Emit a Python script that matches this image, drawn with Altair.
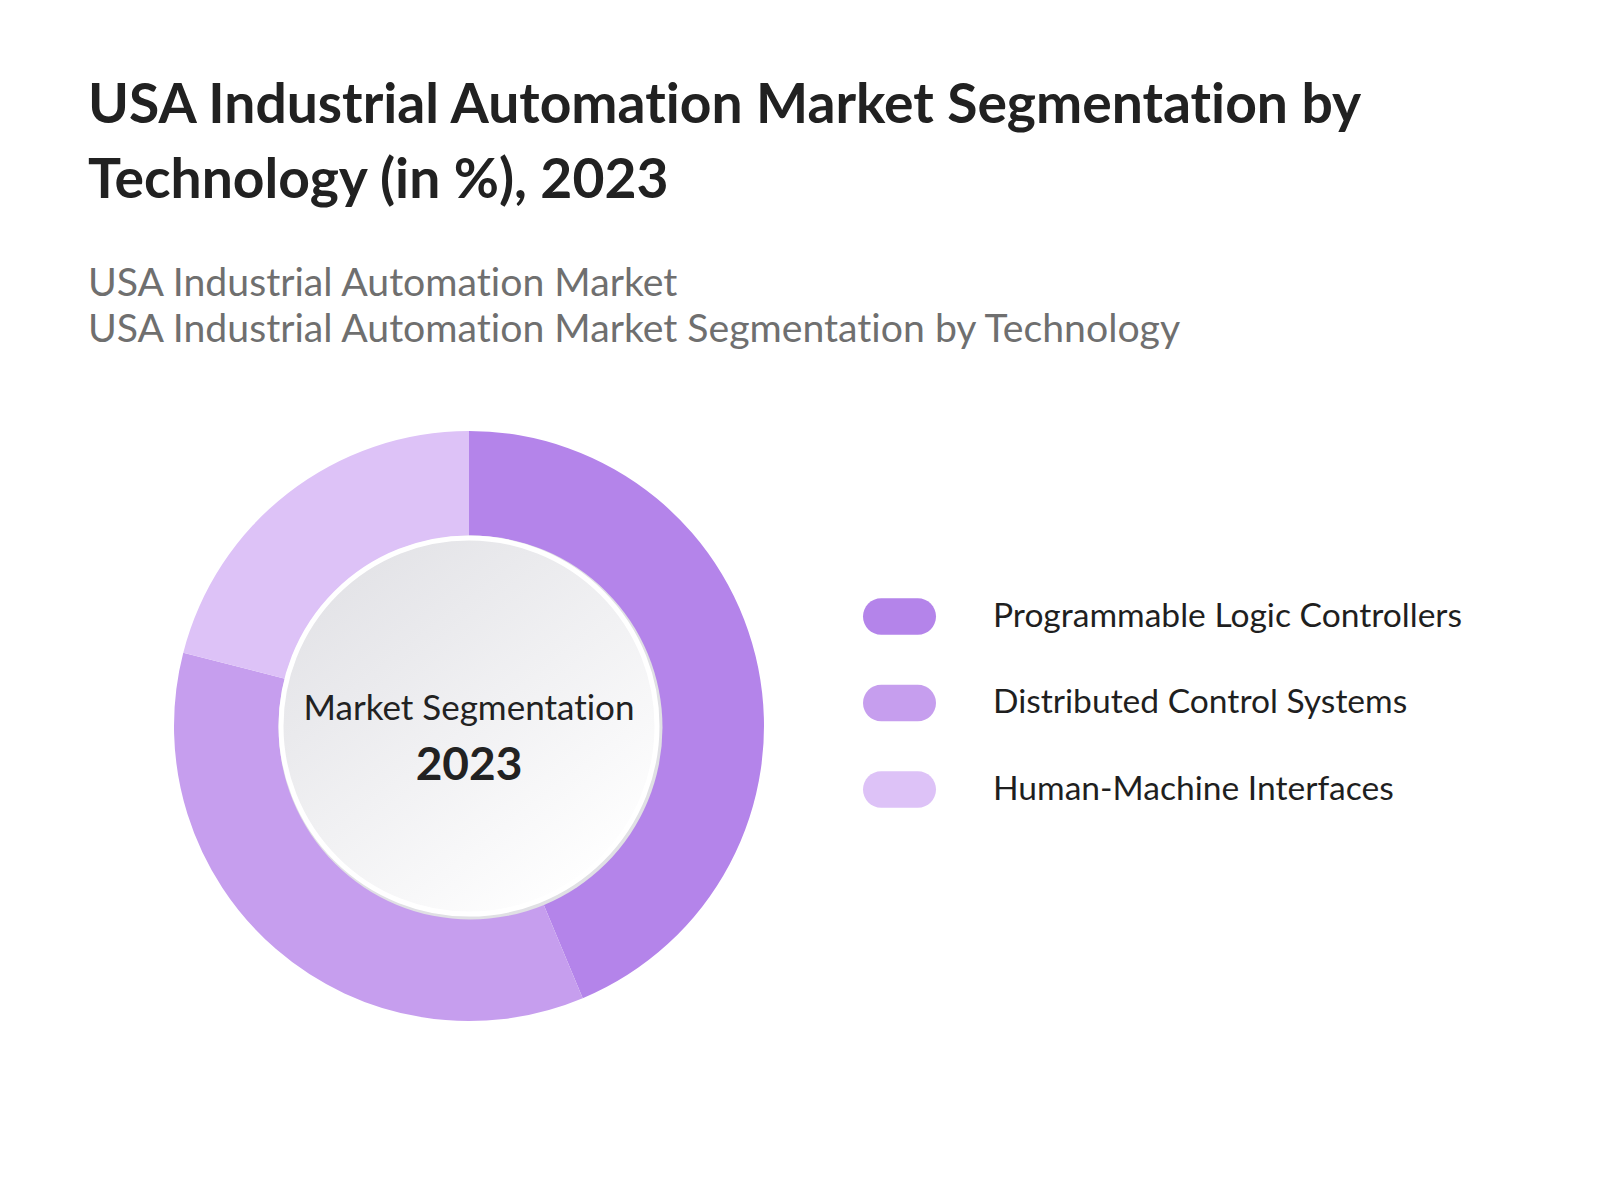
import altair as alt
import pandas as pd

# ---- data ----
segments = ["Programmable Logic Controllers", "Distributed Control Systems", "Human-Machine Interfaces"]
shares = [43.7, 35.3, 21.0]
colors = ["#B484EA", "#C69EEE", "#DDC2F7"]
ZWNJ = "\u200c"  # keeps "t" and "i" apart (no ligature), as in the reference
title_lines = [f"USA Industrial Automat{ZWNJ}ion Market Segmentat{ZWNJ}ion by",
               "Technology (in %), 2023"]
subtitle_lines = [f"USA Industrial Automat{ZWNJ}ion Market",
                  f"USA Industrial Automat{ZWNJ}ion Market Segmentat{ZWNJ}ion by Technology"]
center_label = [f"Market Segmentat{ZWNJ}ion"]
center_year = ["2023"]

df = pd.DataFrame({"segment": segments, "share": shares, "order": list(range(len(segments)))})
center = pd.DataFrame({"label": center_label, "year": center_year})

# ---- layout constants (pixels in plot coordinates) ----
CX, CY = 461, 326
R_OUT, R_IN = 295, 184
R_DISC = 188

PILL = "M-0.5,-0.5H0.5A0.5,0.5,0,0,1,0.5,0.5H-0.5A0.5,0.5,0,0,1,-0.5,-0.5Z"

ring = alt.Chart(df).mark_arc(innerRadius=R_IN, outerRadius=R_OUT, stroke=None).encode(
    theta=alt.Theta("share:Q", stack=True),
    color=alt.Color(
        "segment:N",
        scale=alt.Scale(domain=segments, range=colors),
        legend=alt.Legend(
            title=None, orient="none", legendX=855, legendY=180,
            symbolType=PILL, symbolSize=5329, symbolStrokeWidth=0, symbolOpacity=1,
            labelFont="Lato", labelFontSize=33.6, labelColor="#1f1f1f", labelLimit=1000,
            labelOffset=57, rowPadding=31.5, padding=0,
        ),
    ),
    order=alt.Order("order:Q"),
    x=alt.value(CX),
    y=alt.value(CY),
)

# Vega circle symbols have radius sqrt(size)/2
shadow = alt.Chart(center).mark_point(
    shape="circle", filled=True, size=(2 * 192) ** 2, fill="#e0e0e4", opacity=1, strokeWidth=0
).encode(x=alt.value(CX + 1.5), y=alt.value(CY + 1.5))

grad = alt.Gradient(
    gradient="linear",
    stops=[alt.GradientStop(color="#e3e3e7", offset=0), alt.GradientStop(color="#ffffff", offset=1)],
    x1=0.15, y1=0.1, x2=0.8, y2=0.95,
)
disc = alt.Chart(center).mark_point(
    shape="circle", filled=True, size=(2 * R_DISC) ** 2, fill=grad, opacity=1,
    stroke="#ffffff", strokeWidth=5, strokeOpacity=1,
).encode(x=alt.value(CX), y=alt.value(CY))

label = alt.Chart(center).mark_text(
    font="Lato", fontSize=35, color="#222222", align="center", baseline="alphabetic"
).encode(x=alt.value(CX), y=alt.value(320), text="label:N")

year = alt.Chart(center).mark_text(
    font="Lato", fontSize=46, fontWeight="bold", color="#222222", align="center", baseline="alphabetic"
).encode(x=alt.value(CX), y=alt.value(380), text="year:N")

chart = alt.layer(ring, shadow, disc, label, year).properties(
    width=1584,
    height=792,
    autosize=alt.AutoSizeParams(type="none"),
    padding={"left": 0, "top": 392, "right": 0, "bottom": 0},
    background="#ffffff",
    title=alt.TitleParams(
        text=title_lines,
        subtitle=subtitle_lines,
        anchor="start",
        frame="group",
        dx=80,
        offset=49.5,
        font="Lato",
        fontSize=55.2,
        fontWeight="bold",
        color="#212121",
        lineHeight=75.6,
        subtitleFont="Lato",
        subtitleFontSize=39.2,
        subtitleColor="#6f6f6f",
        subtitleLineHeight=46.7,
        subtitlePadding=55,
    ),
).configure_view(stroke=None)

chart.save("out.html", embed_options={"renderer": "svg", "actions": False})
